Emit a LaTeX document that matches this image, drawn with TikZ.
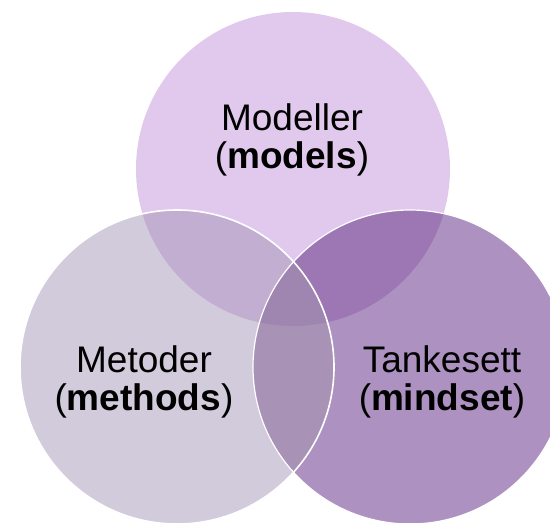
\documentclass[tikz,border=0pt]{standalone}
\usepackage{fontspec}
\setmainfont{Liberation Sans}
\definecolor{cTop}{HTML}{E1C9EE}
\definecolor{cLeft}{HTML}{D1CBDB}
\definecolor{cRight}{HTML}{AD91C1}
\definecolor{cTL}{HTML}{C2AED0}
\definecolor{cTR}{HTML}{9C77B4}
\definecolor{cLR}{HTML}{A893B7}
\definecolor{cAll}{HTML}{9E86B1}
\tikzset{
  rim/.style={draw=white, line width=1.6pt},
  label/.style={font=\fontsize{37}{38}\selectfont, align=center, inner sep=0pt, text=black}
}
\begin{document}
\begin{tikzpicture}[x=1pt,y=-1pt]
\useasboundingbox (0,0) rectangle (550,523);
\clip (0,0) rectangle (550,523);
\coordinate (T) at (293,169);
\coordinate (L) at (177,367);
\coordinate (R) at (410,367);
\def\rad{157pt}
% base discs
\fill[cTop] (T) circle (\rad);
\fill[cRight] (R) circle (\rad);
\fill[cLeft] (L) circle (\rad);
% pairwise overlaps
\begin{scope}\clip (T) circle (\rad); \fill[cTL] (L) circle (\rad);\end{scope}
\begin{scope}\clip (T) circle (\rad); \fill[cTR] (R) circle (\rad);\end{scope}
\begin{scope}\clip (L) circle (\rad); \fill[cLR] (R) circle (\rad);\end{scope}
% triple overlap
\begin{scope}\clip (T) circle (\rad); \clip (L) circle (\rad); \fill[cAll] (R) circle (\rad);\end{scope}
% rims
\draw[rim, line width=1.2pt] (R) circle (\rad);
\draw[rim] (L) circle (\rad);
% circle nodes (named)
\node[circle, minimum size=314pt, inner sep=0pt] (top) at (T) {};
\node[circle, minimum size=314pt, inner sep=0pt] (left) at (L) {};
\node[circle, minimum size=314pt, inner sep=0pt] (right) at (R) {};
% labels
\node[label] (tlab) at (292,140) {Modeller\\(\textbf{models})};
\node[label] (llab) at (144,382) {Metoder\\(\textbf{methods})};
\node[label] (rlab) at (442,382) {Tankesett\\(\textbf{mindset})};
\end{tikzpicture}
\end{document}
